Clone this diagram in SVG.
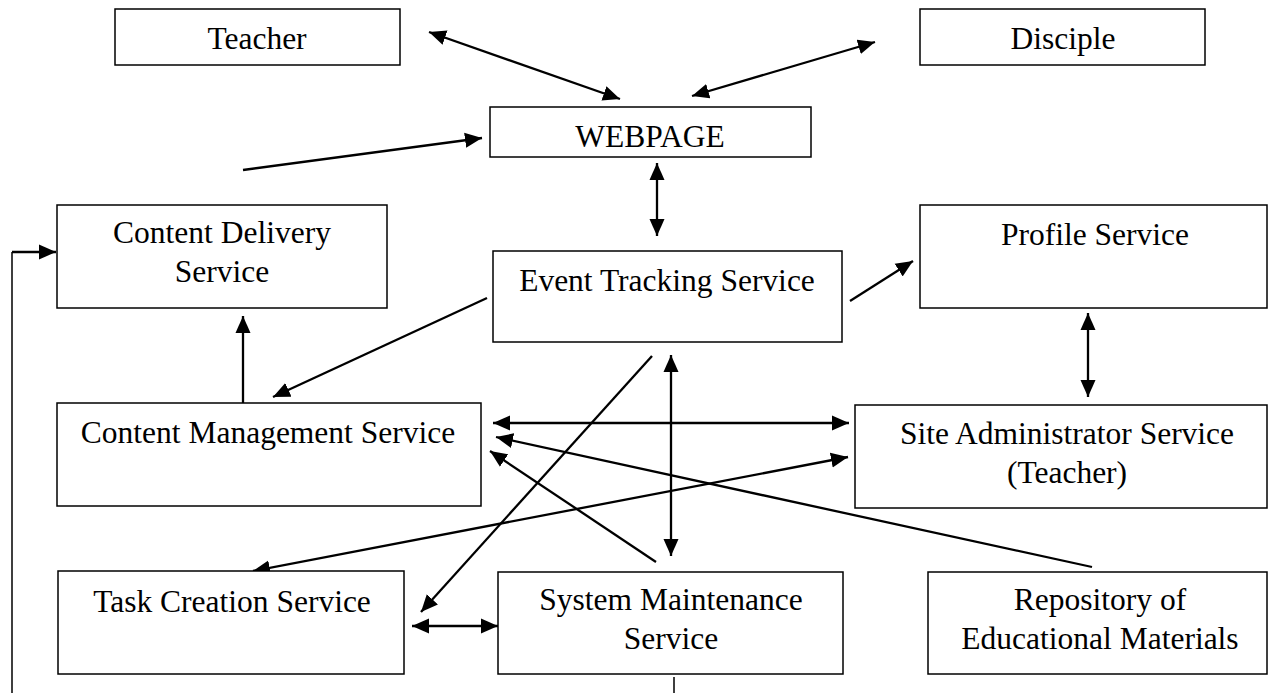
<svg xmlns="http://www.w3.org/2000/svg" width="1269" height="693" viewBox="0 0 1269 693">
<style>
.box{fill:#fff;stroke:#000;stroke-width:1.5}
.t{font-family:"Liberation Serif","Times New Roman",serif;font-size:31.5px;fill:#000;text-anchor:middle}
.c{fill:none;stroke:#000;stroke-width:2.3}
.thin{fill:none;stroke:#000;stroke-width:1.5}
</style>
<defs>
<marker id="ah" markerUnits="userSpaceOnUse" markerWidth="18" markerHeight="16" viewBox="0 0 18 16" refX="17" refY="8" orient="auto-start-reverse">
<path d="M0,0.5 L17,8 L0,15.5 Z" fill="#000"/>
</marker>
</defs>
<rect width="1269" height="693" fill="#fff"/>
<g id="connectors">
<line class="c" x1="429" y1="32" x2="620" y2="99" marker-start="url(#ah)" marker-end="url(#ah)"/>
<line class="c" x1="875" y1="42" x2="692" y2="96" marker-start="url(#ah)" marker-end="url(#ah)"/>
<line class="c" x1="243" y1="170" x2="482" y2="138" marker-end="url(#ah)"/>
<line class="c" x1="657" y1="163" x2="657" y2="236" marker-start="url(#ah)" marker-end="url(#ah)"/>
<line class="c" x1="850" y1="301" x2="913" y2="261" marker-end="url(#ah)"/>
<line class="c" x1="487" y1="298" x2="273" y2="397" marker-end="url(#ah)"/>
<line class="c" x1="243" y1="403" x2="243" y2="316" marker-end="url(#ah)"/>
<path class="thin" d="M674,677 V710 H12 V252"/>
<line class="c" x1="12" y1="252" x2="56" y2="252" marker-end="url(#ah)"/>
<line class="c" x1="493" y1="423" x2="849" y2="423" marker-start="url(#ah)" marker-end="url(#ah)"/>
<line class="c" x1="671" y1="355" x2="671" y2="556" marker-start="url(#ah)" marker-end="url(#ah)"/>
<line class="c" x1="652" y1="356" x2="421" y2="612" marker-end="url(#ah)"/>
<line class="c" x1="848" y1="457" x2="253" y2="571" marker-start="url(#ah)" marker-end="url(#ah)"/>
<line class="c" x1="656" y1="562" x2="490" y2="451" marker-end="url(#ah)"/>
<line class="c" x1="1092" y1="567" x2="496" y2="437" marker-end="url(#ah)"/>
<line class="c" x1="412" y1="626" x2="498" y2="626" marker-start="url(#ah)" marker-end="url(#ah)"/>
<line class="c" x1="1088" y1="313" x2="1088" y2="397" marker-start="url(#ah)" marker-end="url(#ah)"/>
</g>
<g id="teacher"><rect class="box" x="115" y="9" width="285" height="56"/><text class="t" x="257" y="49">Teacher</text></g>
<g id="disciple"><rect class="box" x="920" y="9" width="285" height="56"/><text class="t" x="1063" y="49">Disciple</text></g>
<g id="webpage"><rect class="box" x="490" y="107" width="321" height="50"/><text class="t" x="650" y="147">WEBPAGE</text></g>
<g id="content-delivery"><rect class="box" x="57" y="205" width="330" height="103"/><text class="t" x="222" y="243">Content Delivery</text><text class="t" x="222" y="282">Service</text></g>
<g id="event-tracking"><rect class="box" x="493" y="251" width="349" height="91"/><text class="t" x="667" y="291">Event Tracking Service</text></g>
<g id="profile"><rect class="box" x="920" y="205" width="347" height="103"/><text class="t" x="1095" y="245">Profile Service</text></g>
<g id="content-management"><rect class="box" x="57" y="403" width="424" height="103"/><text class="t" x="268" y="443">Content Management Service</text></g>
<g id="site-admin"><rect class="box" x="855" y="405" width="412" height="103"/><text class="t" x="1067" y="444">Site Administrator Service</text><text class="t" x="1067" y="483">(Teacher)</text></g>
<g id="task-creation"><rect class="box" x="58" y="571" width="346" height="103"/><text class="t" x="232" y="612">Task Creation Service</text></g>
<g id="system-maintenance"><rect class="box" x="498" y="572" width="345" height="102"/><text class="t" x="671" y="610">System Maintenance</text><text class="t" x="671" y="649">Service</text></g>
<g id="repository"><rect class="box" x="928" y="572" width="339" height="102"/><text class="t" x="1100" y="610">Repository of</text><text class="t" x="1100" y="649">Educational Materials</text></g>
</svg>
